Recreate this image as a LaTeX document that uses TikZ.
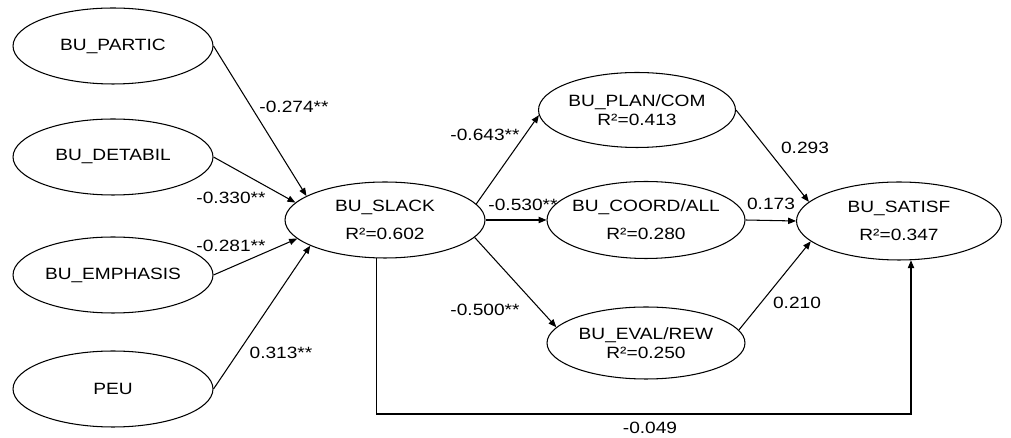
\documentclass[tikz,border=0pt]{standalone}
\usepackage{fontspec}
\setmainfont[FakeStretch=1.17]{Liberation Sans}
\usetikzlibrary{shapes.geometric}
\usetikzlibrary{arrows.meta}

\begin{document}
\begin{tikzpicture}[x=0.02cm,y=-0.02cm,line width=0.6pt,
  font=\fontsize{9.3}{10.5}\selectfont,
  latent/.style={draw,ellipse,align=center,inner xsep=-4pt,inner ysep=0pt,
    minimum width=4cm,minimum height=1.52cm},
  coef/.style={inner sep=1pt},
  link/.style={-{Triangle[length=4.5pt,width=3.6pt]}}]
  \useasboundingbox (0,0) rectangle (1011,438);
  % exogenous constructs
  \node[latent](partic) at (113,46) {BU\_PARTIC};
  \node[latent](detabil) at (113,157) {BU\_DETABIL};
  \node[latent](emphasis) at (113,275) {BU\_EMPHASIS};
  \node[latent](peu) at (113,389) {PEU};
  % mediators and outcome
  \node[latent](slack) at (385,220) {BU\_SLACK\\[5.4pt]R²=0.602};
  \node[latent,minimum width=3.94cm,minimum height=1.5cm](plan) at (637,110) {BU\_PLAN/COM\\R²=0.413};
  \node[latent,minimum width=3.96cm,minimum height=1.54cm](coord) at (646,220) {BU\_COORD/ALL\\[5.4pt]R²=0.280};
  \node[latent,minimum width=3.96cm,minimum height=1.44cm](eval) at (646,343) {BU\_EVAL/REW\\R²=0.250};
  \node[latent,minimum width=4.1cm,minimum height=1.56cm](satisf) at (899,221) {BU\_SATISF\\[5.4pt]R²=0.347};
  \coordinate (low) at (650,414);
  % paths
  \draw[link] (partic.east)--(slack.163);
  \draw[link] (detabil.east)--(slack.169);
  \draw[link] (emphasis.east)--(slack.192);
  \draw[link] (peu.east)--(slack.199);
  \draw[link] (slack.10)--(plan.183);
  \draw[link] (slack.east)--(coord.west);
  \draw[link] (slack.349)--(eval.170);
  \draw[link] (plan.east)--(satisf.168);
  \draw[link] (coord.east)--(satisf.west);
  \draw[link] (eval.8)--(satisf.193);
  \draw[link] (slack.257) |- (low) -| (satisf.287);
  % coefficients
  \node[coef](cpartic) at (294,107) {-0.274**};
  \node[coef](cdetabil) at (231,198) {-0.330**};
  \node[coef](cemphasis) at (231,246) {-0.281**};
  \node[coef](cpeu) at (281,353) {0.313**};
  \node[coef](cplan) at (485,135) {-0.643**};
  \node[coef](ccoord) at (523,205) {-0.530**};
  \node[coef](ceval) at (485,310) {-0.500**};
  \node[coef](cplansat) at (805,148) {0.293};
  \node[coef](ccoordsat) at (771,204) {0.173};
  \node[coef](cevalsat) at (797,303) {0.210};
  \node[coef](cslacksat) at (650,428) {-0.049};
\end{tikzpicture}
\end{document}
